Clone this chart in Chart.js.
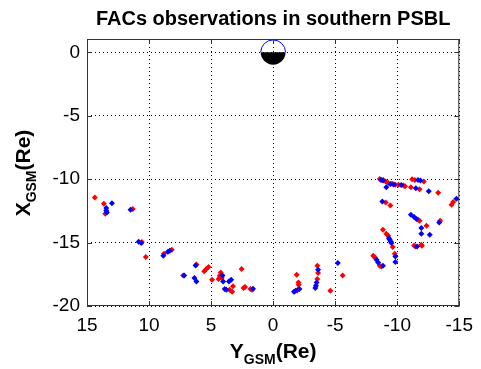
<!DOCTYPE html>
<html>
<head>
<meta charset="utf-8">
<script src="https://cdn.jsdelivr.net/npm/chart.js@4.4.0/dist/chart.umd.min.js"></script>
<style>
  html, body { margin: 0; padding: 0; background: #fff; }
  #wrap { width: 481px; height: 369px; }
</style>
</head>
<body>
<div id="wrap"><canvas id="facChart" width="481" height="369"></canvas></div>
<script>
// observations, Y_GSM (Re) and X_GSM (Re)
const redY = [14.37, 13.64, 13.53, 11.31, 10.58, 10.26, 8.79, 8.17, 7.25,
  6.18, 5.55, 5.39, 5.21, 4.92, 4.22, 4.3, 4.14, 4.4, 3.51, 3.3, 3.24, 2.54, 2.39, 2.26, 1.83, 1.7,
  -1.9, -2.04, -2.06, -1.94, -2.04, -3.56, -3.62, -3.56, -4.61, -5.6,
  -8.59, -8.86, -9.07, -9.27, -9.59, -9.85, -10.1, -10.5, -10.63, -11.1, -11.8, -11.2, -11.42, -12.15,
  -13.3, -14.51, -14.38, -9.07, -9.45, -11.68, -11.8, -12.36, -13.46, -8.85, -9.12, -9.27, -9.64,
  -11.36, -11.47, -11.94, -11.99, -9.8, -8.07, -8.2, -8.59, -8.72];
const redX = [-11.45, -11.94, -12.73, -12.36, -14.96, -16.14, -15.88, -15.57, -17.6,
  -16.72, -17.27, -17.09, -16.93, -17.93, -17.35, -17.61, -17.8, -17.87, -18.72, -18.87, -18.45, -17.09, -18.58, -18.5, -18.66, -18.72,
  -17.54, -18.14, -18.32, -18.77, -18.66, -16.83, -17.4, -17.87, -18.8, -17.59,
  -9.98, -10.06, -10.19, -10.31, -10.37, -10.45, -10.45, -10.5, -10.55, -10.63, -10.79, -10.0, -10.06, -10.19,
  -11.08, -11.81, -12.02, -11.84, -12.08, -13.2, -13.28, -13.68, -13.28, -13.99, -14.31, -14.46, -15.35,
  -15.23, -15.31, -15.17, -15.25, -15.88, -16.04, -16.17, -16.83, -16.88];

const blueY = [12.99, 13.45, 13.45, 13.4, 11.49, 10.84, 10.63, 8.85, 8.48, 8.33, 7.17, 6.25, 6.34, 6.18,
  4.08, 4.03, 3.9, 3.77, 3.56, 3.38, 1.62, -1.68, -1.81, -2.12, -3.62, -3.5, -3.45, -3.4, -5.21,
  -8.7, -8.86, -9.45, -9.72, -10.32, -9.12, -11.5, -11.68, -11.87, -12.54, -14.77, -8.8,
  -11.1, -11.36, -11.55, -13.38, -11.94, -11.94, -12.62, -9.33, -9.4, -9.48, -9.53, -11.6,
  -9.85, -9.85, -8.33, -8.46, -8.85];
const blueX = [-11.89, -12.28, -12.47, -12.63, -12.42, -14.94, -15.04, -16.04, -15.72, -15.65, -17.6, -16.8, -17.8, -18.06,
  -17.6, -18.06, -18.66, -18.72, -18.06, -17.93, -18.64, -18.87, -18.8, -18.66, -17.14, -18.14, -18.4, -18.58, -16.61,
  -10.06, -10.11, -10.39, -10.43, -10.47, -10.63, -10.71, -10.06, -10.11, -10.95, -11.55, -11.76,
  -12.81, -12.99, -13.15, -13.41, -13.86, -14.31, -14.39, -14.65, -14.78, -14.91, -15.04, -15.31,
  -16.09, -16.54, -16.35, -16.57, -16.83];

const xTicks = [15, 10, 5, 0, -5, -10, -15];
const yTicks = [0, -5, -10, -15, -20];
const earthRadius = 1;

const FONT = "Arial, 'Liberation Sans', sans-serif";

function toPoints(xs, ys) {
  return xs.map((v, i) => ({ x: v, y: ys[i] }));
}

// earth symbol, frame with inward ticks, title and axis labels
const decor = {
  id: 'decor',
  beforeDatasetsDraw(chart) {
    const { ctx, scales: { x, y } } = chart;
    const cx = x.getPixelForValue(0), cy = y.getPixelForValue(0);
    const r = Math.abs(x.getPixelForValue(earthRadius) - cx);
    ctx.save();
    ctx.beginPath();
    ctx.arc(cx, cy, r, 0, Math.PI);
    ctx.closePath();
    ctx.fillStyle = '#000';
    ctx.fill();
    ctx.beginPath();
    ctx.arc(cx, cy, r, Math.PI, 2 * Math.PI);
    ctx.strokeStyle = '#0000ff';
    ctx.lineWidth = 1;
    ctx.stroke();
    ctx.restore();
  },
  afterDraw(chart) {
    const { ctx, chartArea: a, scales: { x, y } } = chart;
    ctx.save();
    ctx.strokeStyle = '#333';
    ctx.lineWidth = 1;
    ctx.strokeRect(a.left + 0.5, a.top + 0.5, a.right - a.left - 1, a.bottom - a.top - 1);
    const tl = 5;
    ctx.beginPath();
    xTicks.forEach(v => {
      const px = Math.round(x.getPixelForValue(v)) + 0.5;
      ctx.moveTo(px, a.bottom); ctx.lineTo(px, a.bottom - tl);
      ctx.moveTo(px, a.top); ctx.lineTo(px, a.top + tl);
    });
    yTicks.forEach(v => {
      const py = Math.round(y.getPixelForValue(v)) + 0.5;
      ctx.moveTo(a.left, py); ctx.lineTo(a.left + tl, py);
      ctx.moveTo(a.right, py); ctx.lineTo(a.right - tl, py);
    });
    ctx.stroke();

    ctx.fillStyle = '#000';
    ctx.textAlign = 'center';
    ctx.textBaseline = 'alphabetic';
    ctx.font = 'bold 20px ' + FONT;
    ctx.fillText('FACs observations in southern PSBL', (a.left + a.right) / 2, 25);

    drawSubLabel(ctx, 'Y', 'GSM', '(Re)', (a.left + a.right) / 2, 358);
    ctx.save();
    ctx.translate(30, 173);
    ctx.rotate(-Math.PI / 2);
    drawSubLabel(ctx, 'X', 'GSM', '(Re)', 0, 0);
    ctx.restore();
    ctx.restore();
  }
};

function drawSubLabel(ctx, main, sub, tail, cx, base) {
  const big = 'bold 21px ' + FONT, small = 'bold 14px ' + FONT;
  ctx.font = big;
  const w1 = ctx.measureText(main).width, w3 = ctx.measureText(tail).width;
  ctx.font = small;
  const w2 = ctx.measureText(sub).width;
  let x0 = cx - (w1 + w2 + w3) / 2;
  ctx.textAlign = 'left';
  ctx.font = big;
  ctx.fillText(main, x0, base);
  ctx.font = small;
  ctx.fillText(sub, x0 + w1, base + 6);
  ctx.font = big;
  ctx.fillText(tail, x0 + w1 + w2, base);
}

new Chart(document.getElementById('facChart'), {
  type: 'scatter',
  data: {
    datasets: [
      {
        label: 'blue',
        data: toPoints(blueY, blueX),
        pointStyle: 'rectRot',
        radius: 3,
        borderWidth: 0,
        backgroundColor: '#0000ff'
      },
      {
        label: 'red',
        data: toPoints(redY, redX),
        pointStyle: 'rectRot',
        radius: 3,
        borderWidth: 0,
        backgroundColor: '#ff0000'
      }
    ]
  },
  options: {
    responsive: false,
    animation: false,
    layout: { padding: { top: 39, right: 12, left: 0, bottom: 0 } },
    plugins: {
      legend: { display: false },
      tooltip: { enabled: false }
    },
    scales: {
      x: {
        type: 'linear',
        reverse: true,
        min: -15,
        max: 15,
        afterFit: s => { s.height = 63; },
        afterBuildTicks: s => { s.ticks = xTicks.map(v => ({ value: v })); },
        grid: { color: '#000', drawTicks: false, lineWidth: 1 },
        border: { display: false, dash: [1, 3] },
        ticks: { color: '#000', padding: 8, font: { family: FONT, size: 19 }, maxRotation: 0 }
      },
      y: {
        type: 'linear',
        min: -20,
        max: 1.05,
        afterFit: s => { s.width = 87; },
        afterBuildTicks: s => { s.ticks = yTicks.map(v => ({ value: v })); },
        grid: { color: '#000', drawTicks: false, lineWidth: 1 },
        border: { display: false, dash: [1, 3] },
        ticks: { color: '#000', padding: 7, font: { family: FONT, size: 19 } }
      }
    }
  },
  plugins: [decor]
});
</script>
</body>
</html>
